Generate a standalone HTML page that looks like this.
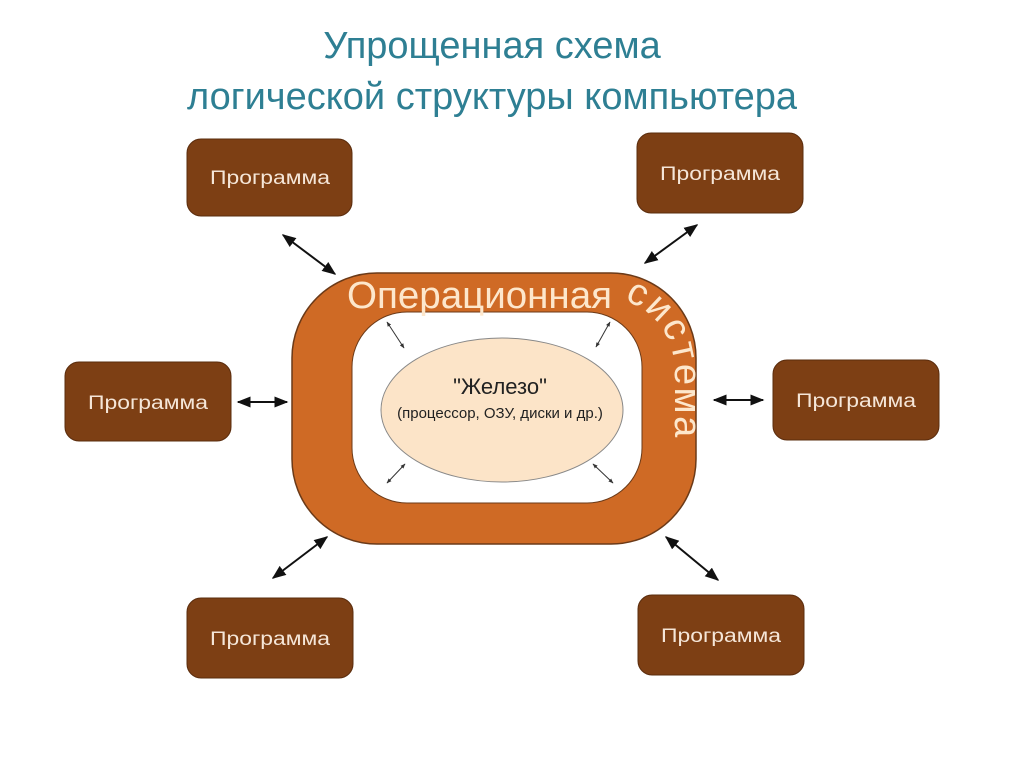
<!DOCTYPE html>
<html><head><meta charset="utf-8"><style>
body{margin:0;background:#fff;width:1024px;height:767px;overflow:hidden;font-family:"Liberation Sans","DejaVu Sans",sans-serif}
</style></head><body>
<svg width="1024" height="767" xmlns="http://www.w3.org/2000/svg" font-family="Liberation Sans, DejaVu Sans, sans-serif">
<defs>
<marker id="a" viewBox="0 0 10 10" refX="9" refY="5" markerWidth="7" markerHeight="7" orient="auto-start-reverse"><path d="M0,1 L10,5 L0,9 z" fill="#111"/></marker>
<marker id="s" viewBox="0 0 10 10" refX="9" refY="5" markerWidth="5" markerHeight="5" orient="auto-start-reverse"><path d="M0,1 L10,5 L0,9 z" fill="#333"/></marker>
<path id="sp" d="M624,300 Q672,318 675,370 L675,480"/>
</defs>
<text x="492" y="58" text-anchor="middle" font-size="38" fill="#2e7f93">Упрощенная схема</text>
<text x="492" y="109" text-anchor="middle" font-size="38" fill="#2e7f93">логической структуры компьютера</text>

<rect x="292" y="273" width="404" height="271" rx="85" fill="#cf6a25" stroke="#6b3a18" stroke-width="1.5"/>
<rect x="352" y="312" width="290" height="191" rx="55" fill="#fff" stroke="#6b3a18" stroke-width="1"/>
<ellipse cx="502" cy="410" rx="121" ry="72" fill="#fce4c8" stroke="#888" stroke-width="1"/>
<text x="500" y="394" text-anchor="middle" font-size="22" fill="#222">"Железо"</text>
<text x="500" y="418" text-anchor="middle" font-size="15" fill="#222">(процессор, ОЗУ, диски и др.)</text>
<text x="347" y="308" font-size="38" fill="#fde7cc" textLength="265" lengthAdjust="spacingAndGlyphs">Операционная</text>
<text font-size="38" fill="#fde7cc" letter-spacing="2.5"><textPath href="#sp">система</textPath></text>

<g stroke="#333" stroke-width="1" marker-start="url(#s)" marker-end="url(#s)">
<line x1="387" y1="322" x2="404" y2="348"/>
<line x1="610" y1="322" x2="596" y2="347"/>
<line x1="405" y1="464" x2="387" y2="483"/>
<line x1="593" y1="464" x2="613" y2="483"/>
</g>
<g stroke="#111" stroke-width="2" marker-start="url(#a)" marker-end="url(#a)">
<line x1="283" y1="235" x2="335" y2="274"/>
<line x1="645" y1="263" x2="697" y2="225"/>
<line x1="238" y1="402" x2="287" y2="402"/>
<line x1="714" y1="400" x2="763" y2="400"/>
<line x1="273" y1="578" x2="327" y2="537"/>
<line x1="666" y1="537" x2="718" y2="580"/>
</g>
<g fill="#7d3f14" stroke="#5a2c0d" stroke-width="1">
<rect x="187" y="139" width="165" height="77" rx="14"/>
<rect x="637" y="133" width="166" height="80" rx="14"/>
<rect x="65" y="362" width="166" height="79" rx="14"/>
<rect x="773" y="360" width="166" height="80" rx="14"/>
<rect x="187" y="598" width="166" height="80" rx="14"/>
<rect x="638" y="595" width="166" height="80" rx="14"/>
</g>
<g fill="#f5e6d8" font-size="19" text-anchor="middle">
<text x="270" y="184" textLength="120" lengthAdjust="spacingAndGlyphs">Программа</text>
<text x="720" y="180" textLength="120" lengthAdjust="spacingAndGlyphs">Программа</text>
<text x="148" y="409" textLength="120" lengthAdjust="spacingAndGlyphs">Программа</text>
<text x="856" y="407" textLength="120" lengthAdjust="spacingAndGlyphs">Программа</text>
<text x="270" y="645" textLength="120" lengthAdjust="spacingAndGlyphs">Программа</text>
<text x="721" y="642" textLength="120" lengthAdjust="spacingAndGlyphs">Программа</text>
</g>
</svg>
</body></html>
